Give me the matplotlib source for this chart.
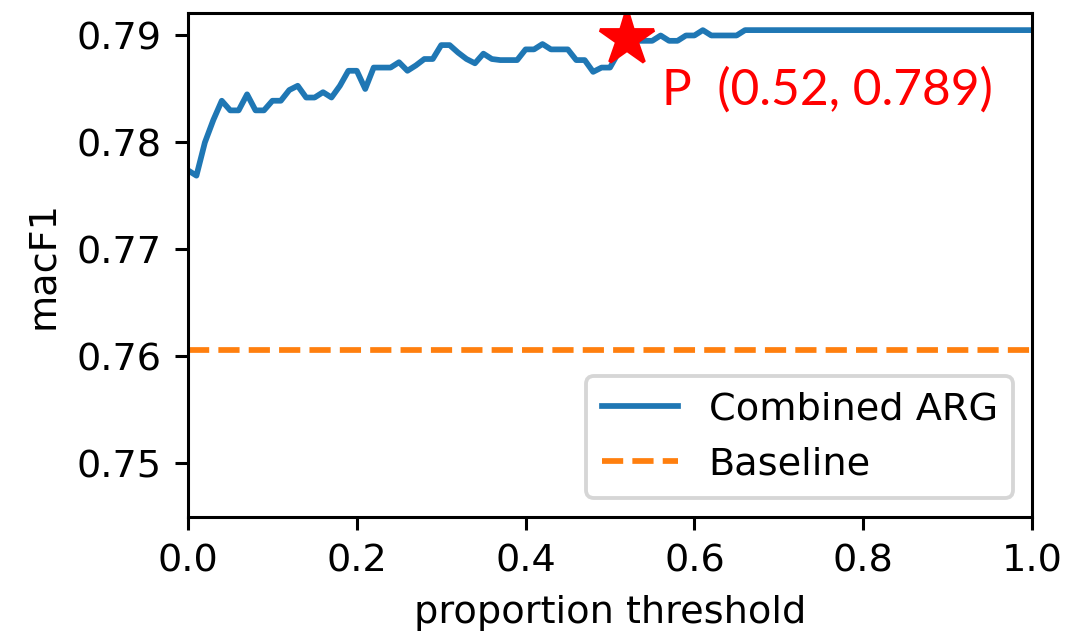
import matplotlib
matplotlib.use('Agg')
import matplotlib.pyplot as plt

# proportion threshold vs macro F1
thresholds = [0.00, 0.01, 0.02, 0.03, 0.04, 0.05, 0.06, 0.07, 0.08, 0.09,
              0.10, 0.11, 0.12, 0.13, 0.14, 0.15, 0.16, 0.17, 0.18, 0.19,
              0.20, 0.21, 0.22, 0.23, 0.24, 0.25, 0.26, 0.27, 0.28, 0.29,
              0.30, 0.31, 0.32, 0.33, 0.34, 0.35, 0.36, 0.37, 0.38, 0.39,
              0.40, 0.41, 0.42, 0.43, 0.44, 0.45, 0.46, 0.47, 0.48, 0.49,
              0.50, 0.51, 0.52, 0.53, 0.54, 0.55, 0.56, 0.57, 0.58, 0.59,
              0.60, 0.61, 0.62, 0.63, 0.64, 0.65, 0.66, 1.00]
macf1 = [0.7774, 0.7769, 0.7800, 0.7821, 0.7839, 0.7830, 0.7830, 0.7845, 0.7830, 0.7830,
         0.7839, 0.7839, 0.7849, 0.7853, 0.7842, 0.7842, 0.7847, 0.7842, 0.7853, 0.7867,
         0.7867, 0.7850, 0.7870, 0.7870, 0.7870, 0.7875, 0.7867, 0.7872, 0.7878, 0.7878,
         0.7891, 0.7891, 0.7884, 0.7878, 0.7874, 0.7883, 0.7878, 0.7877, 0.7877, 0.7877,
         0.7887, 0.7887, 0.7892, 0.7887, 0.7887, 0.7887, 0.7877, 0.7877, 0.7866, 0.7870,
         0.7870, 0.7884, 0.7896, 0.7895, 0.7895, 0.7895, 0.7900, 0.7895, 0.7895, 0.7900,
         0.7900, 0.7905, 0.7900, 0.7900, 0.7900, 0.7900, 0.7905, 0.7905]
baseline = 0.7606
best_x = 0.52
best_y = 0.7897
best_label = 'P  (0.52, 0.789)'

fig = plt.figure(figsize=(1068 / 275, 634 / 275), dpi=275)
ax = fig.add_axes([188 / 1068, 1 - 517 / 634, (1032 - 188) / 1068, (517 - 13) / 634])

ax.plot(thresholds, macf1, label='Combined ARG')
ax.axhline(baseline, color='tab:orange', linestyle='--', label='Baseline')
ax.plot(best_x, best_y, marker='*', color='red', markersize=15)
ax.text(best_x + 0.042, best_y - 0.0062, best_label, color='red',
        fontsize=13, family=['Lato', 'DejaVu Sans'], va='baseline')

ax.set_xlim(0, 1)
ax.set_ylim(0.745, 0.7921)
ax.set_xlabel('proportion threshold')
ax.set_ylabel('macF1')
ax.legend(loc='lower right')

plt.savefig('out.png', dpi=275)
plt.close()
